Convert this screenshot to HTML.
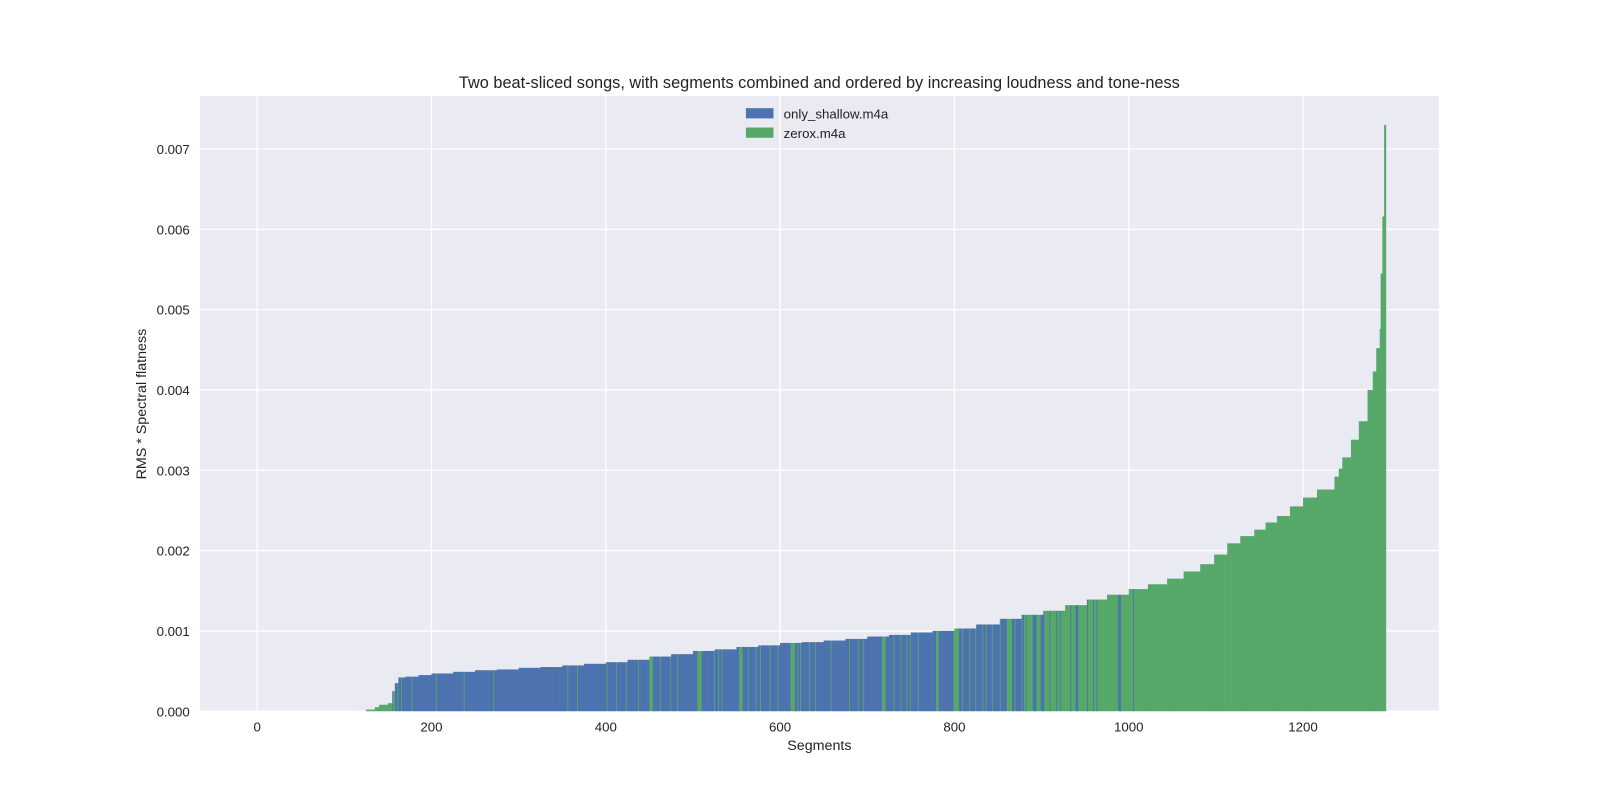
<!DOCTYPE html>
<html><head><meta charset="utf-8"><style>
body{margin:0;background:#fff}
svg{display:block;font-family:"Liberation Sans",Arial,sans-serif}
</style></head><body>
<svg id="chart" width="1600" height="800">
<g transform="scale(1.0204)">
<rect x="196" y="94" width="1214" height="603" fill="#eaeaf2"/>
<g id="grid"></g>
<g id="bars"></g>
<g id="ticks"></g>
<text x="803" y="86" text-anchor="middle" font-size="16" fill="#222">Two beat-sliced songs, with segments combined and ordered by increasing loudness and tone-ness</text>
<text x="803" y="735" text-anchor="middle" font-size="14" fill="#222">Segments</text>
<text transform="translate(143,396) rotate(-90)" text-anchor="middle" font-size="14" fill="#222">RMS * Spectral flatness</text>
<g>
<rect x="731" y="106" width="27" height="10" fill="#4c72b0"/>
<text x="768" y="116" font-size="13" fill="#222">only_shallow.m4a</text>
<rect x="731" y="125" width="27" height="10" fill="#55a868"/>
<text x="768" y="135" font-size="13" fill="#222">zerox.m4a</text>
</g>
</g>
</svg>
<script>
const knotSegs=[120,125,135,140,150,155,158,162,170,185,200,225,250,275,300,325,350,375,400,425,450,475,500,525,550,575,600,625,650,675,700,725,750,775,800,825,852,877,902,927,952,975,1000,1022,1044,1063,1082,1098,1113,1128,1144,1157,1170,1185,1200,1216,1236,1241,1245,1255,1264,1274,1280,1284,1288,1289,1291,1293];
const knotValues=[0.00000,0.00002,0.00005,0.00008,0.00010,0.00025,0.00035,0.00042,0.00043,0.00045,0.00047,0.00049,0.00051,0.00052,0.00054,0.00055,0.00057,0.00059,0.00061,0.00064,0.00068,0.00071,0.00075,0.00077,0.00080,0.00082,0.00085,0.00086,0.00088,0.00090,0.00093,0.00095,0.00098,0.00100,0.00103,0.00108,0.00115,0.00120,0.00125,0.00132,0.00139,0.00145,0.00152,0.00158,0.00165,0.00174,0.00183,0.00195,0.00209,0.00218,0.00226,0.00235,0.00243,0.00255,0.00266,0.00276,0.00292,0.00302,0.00316,0.00338,0.00361,0.00400,0.00423,0.00452,0.00476,0.00545,0.00616,0.00730];
const lastSeg=1294;
const greenStripes=[156,157,161,165,177,205,237,271,356,367,401,412,423,437,450,451,452,453,462,474,482,505,506,507,508,509,524,529,533,553,554,555,556,563,572,577,588,597,612,613,614,615,616,620,623,633,640,658,679,689,695,717,718,719,720,730,738,745,749,758,779,780,781,799,800,801,802,803,804,809,817,824,832,836,843,852,860,861,862,863,864,865,869,877];
const blueStripes=[882,890,891,892,893,899,900,901,902,909,917,921,933,939,940,941,952,959,963,988,989,990,1005];
const xTicks=[0,200,400,600,800,1000,1200];
const yTicks=[0,0.001,0.002,0.003,0.004,0.005,0.006,0.007];

const NS="http://www.w3.org/2000/svg";
const xs=s=>252+s*(1277-252)/1200;
const ys=v=>697-v*78.71/0.001;
function valueAt(s){let v=0;for(let i=0;i<knotSegs.length;i++){if(knotSegs[i]<=s)v=knotValues[i];}return v;}
function colorAt(s){
  if(s<155)return "#55a868";
  if(s<880)return greenStripes.includes(s)?"#55a868":"#4c72b0";
  return blueStripes.includes(s)?"#4c72b0":"#55a868";
}
const grid=document.getElementById('grid'),bars=document.getElementById('bars'),ticks=document.getElementById('ticks');
xTicks.forEach(t=>{
  const l=document.createElementNS(NS,'line');
  l.setAttribute('x1',xs(t));l.setAttribute('x2',xs(t));l.setAttribute('y1',94);l.setAttribute('y2',697);
  l.setAttribute('stroke','#fff');l.setAttribute('stroke-width','1.3');
  
  
  grid.appendChild(l);
  const tx=document.createElementNS(NS,'text');
  tx.setAttribute('x',xs(t));tx.setAttribute('y',717);tx.setAttribute('text-anchor','middle');
  tx.setAttribute('font-size','13');tx.setAttribute('fill','#222');tx.textContent=t;
  
  
  ticks.appendChild(tx);
});
yTicks.forEach(t=>{
  const l=document.createElementNS(NS,'line');
  l.setAttribute('x1',196);l.setAttribute('x2',1410);l.setAttribute('y1',ys(t));l.setAttribute('y2',ys(t));
  l.setAttribute('stroke','#fff');l.setAttribute('stroke-width','1.3');
  
  
  grid.appendChild(l);
  const tx=document.createElementNS(NS,'text');
  tx.setAttribute('x',186);tx.setAttribute('y',ys(t)+5);tx.setAttribute('text-anchor','end');
  tx.setAttribute('font-size','13');tx.setAttribute('fill','#222');tx.textContent=t.toFixed(3);
  
  
  ticks.appendChild(tx);
});
for(let s=knotSegs[0];s<=lastSeg;s++){
  const v=valueAt(s);if(v<=0)continue;
  const r=document.createElementNS(NS,'rect');
  const x0=xs(s),x1=xs(s+1);
  r.setAttribute('x',x0);r.setAttribute('width',Math.max(x1-x0+0.3,0.9));
  r.setAttribute('y',ys(v));r.setAttribute('height',697-ys(v));
  r.setAttribute('fill',colorAt(s));
  
  
  bars.appendChild(r);
}
</script>
</body></html>
